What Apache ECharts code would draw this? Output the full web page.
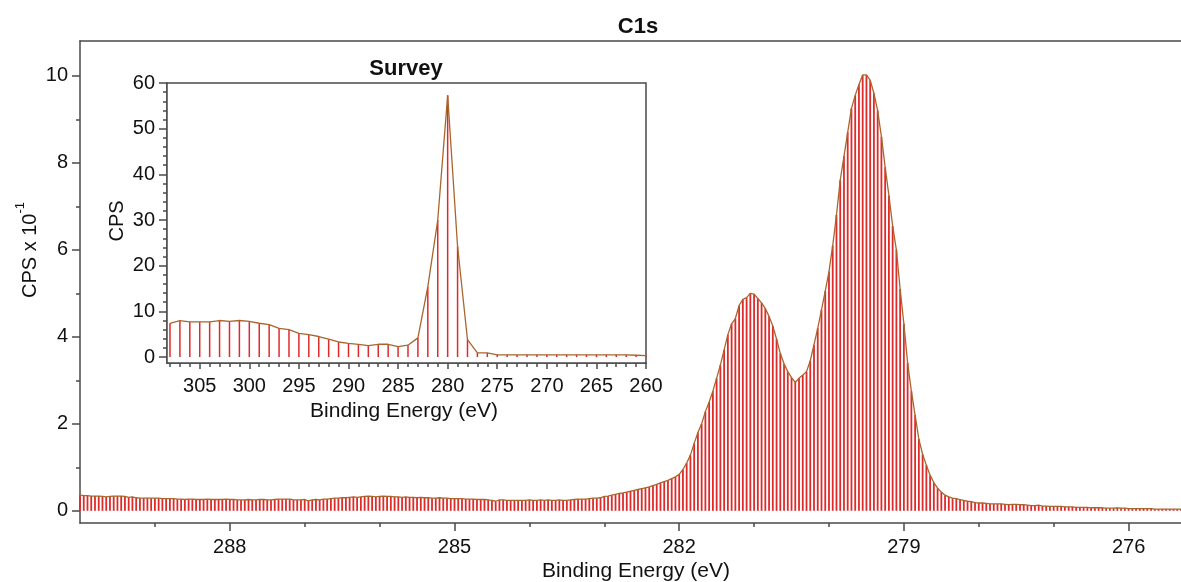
<!DOCTYPE html>
<html><head><meta charset="utf-8">
<script src="https://cdn.jsdelivr.net/npm/echarts@6/dist/echarts.min.js"></script>
<style>html,body{margin:0;padding:0;background:#fff}#c{width:1181px;height:582px}</style>
</head><body><div id="c"></div>
<script>
// ---------- C1s high-resolution spectrum (CPS x 10^-1) ----------
const c1sStart = 290.00;   // first binding energy (eV)
const c1sStep = 0.05;      // energy step (eV), decreasing
const c1sValues = [
  0.36,0.35,0.35,0.34,0.34,0.34,0.33,0.32,0.33,0.34,0.34,0.34,0.33,0.31,0.32,0.30,0.29,0.29,0.29,0.29,0.29,
  0.29,0.28,0.28,0.28,0.28,0.27,0.27,0.26,0.27,0.27,0.26,0.26,0.26,0.27,0.26,0.26,0.26,0.26,0.27,0.26,
  0.26,0.25,0.25,0.25,0.26,0.25,0.25,0.26,0.26,0.25,0.25,0.26,0.27,0.27,0.27,0.27,0.25,0.25,0.25,0.26,
  0.23,0.25,0.26,0.25,0.27,0.27,0.28,0.29,0.29,0.30,0.30,0.31,0.32,0.31,0.32,0.33,0.34,0.33,0.32,0.33,
  0.34,0.33,0.33,0.32,0.32,0.31,0.32,0.31,0.31,0.30,0.31,0.30,0.30,0.29,0.29,0.30,0.29,0.29,0.28,0.28,
  0.28,0.28,0.27,0.27,0.27,0.26,0.26,0.26,0.25,0.24,0.22,0.25,0.25,0.24,0.24,0.24,0.24,0.24,0.24,0.25,
  0.24,0.24,0.25,0.24,0.25,0.24,0.24,0.25,0.24,0.24,0.25,0.26,0.27,0.27,0.27,0.28,0.29,0.29,0.30,0.33,
  0.34,0.36,0.38,0.40,0.41,0.43,0.45,0.47,0.49,0.51,0.53,0.55,0.58,0.61,0.64,0.67,0.70,0.74,0.78,0.84,
  0.95,1.10,1.28,1.55,1.80,2.00,2.28,2.50,2.75,3.05,3.35,3.70,4.05,4.30,4.42,4.72,4.86,4.90,5.00,4.98,
  4.88,4.78,4.65,4.47,4.25,3.95,3.62,3.38,3.20,3.06,2.95,3.05,3.12,3.20,3.45,3.82,4.20,4.62,5.05,5.50,
  6.10,6.80,7.60,8.15,8.70,9.25,9.55,9.80,10.02,10.02,9.90,9.60,9.20,8.60,7.90,7.25,6.55,6.00,5.10,4.30,
  3.40,2.75,2.20,1.65,1.30,1.05,0.82,0.65,0.52,0.43,0.36,0.32,0.29,0.28,0.26,0.24,0.22,0.21,0.19,0.18,
  0.18,0.17,0.16,0.16,0.16,0.16,0.15,0.14,0.15,0.15,0.14,0.14,0.13,0.12,0.12,0.13,0.11,0.11,0.10,0.10,
  0.10,0.10,0.09,0.09,0.09,0.08,0.08,0.08,0.08,0.07,0.07,0.07,0.07,0.06,0.06,0.06,0.07,0.06,0.06,0.05,
  0.05,0.05,0.05,0.05,0.05,0.05,0.04,0.04,0.04,0.04,0.04,0.04,0.04,0.04
];
const c1sTicksX = [288, 285, 282, 279, 276];
const c1sMinorX = [289, 287, 286, 284, 283, 281, 280, 278, 277];
const c1sTicksY = [0, 2, 4, 6, 8, 10];
const c1sMinorY = [1, 3, 5, 7, 9];

// ---------- Survey spectrum (CPS) ----------
const surveyEnergy = [308,307,306,305,304,303,302,301,300,299,298,297,296,295,294,293,292,291,290,289,
  288,287,286,285,284,283,282,281,280,279,278,277,276,275,274,273,272,271,270,269,268,267,266,265,264,263,262,261,260];
const surveyValues = [7.4,8.0,7.7,7.7,7.7,8.0,7.8,8.0,7.8,7.4,7.1,6.3,6.0,5.2,4.9,4.5,3.9,3.3,3.0,2.8,
  2.5,2.8,2.8,2.3,2.6,4.2,15.4,30.0,57.3,24.2,3.8,0.9,0.9,0.5,0.5,0.5,0.5,0.5,0.5,0.5,0.5,0.5,0.5,0.5,0.5,0.5,0.5,0.4,0.3];
const surveyTicksX = [305, 300, 295, 290, 285, 280, 275, 270, 265, 260];
const surveyTicksY = [0, 10, 20, 30, 40, 50, 60];

const surveyMinorX = [];
for (let e = 261; e <= 308; e++) if (e % 5 !== 0) surveyMinorX.push(e);
const surveyMinorY = [];
for (let v = 2; v < 60; v += 2) if (v % 10 !== 0) surveyMinorY.push(v);

const c1sData = c1sValues.map((v, i) => [+(c1sStart - i * c1sStep).toFixed(2), v]);
const surveyData = surveyEnergy.map((e, i) => [e, surveyValues[i]]);

const FONT = 'Liberation Sans, Arial, sans-serif';
const AX = '#4a4a4a';
const BAR = '#e02a2a';
const LINE = '#a8662e';

const chart = echarts.init(document.getElementById('c'), null, {renderer: 'canvas'});

function lineAxis(show) { return {show: show, onZero: false, lineStyle: {color: AX, width: 1.5}}; }
const hiddenLine = {show: false, onZero: false};

chart.setOption({
  animation: false,
  backgroundColor: '#fff',
  grid: [
    {left: 80, top: 41, right: 0, bottom: 59, show: false},
    {left: 167, top: 83, width: 479, height: 280, show: true, borderColor: AX, borderWidth: 1.5, backgroundColor: '#fff', z: 5}
  ],
  xAxis: [
    {gridIndex: 0, type: 'value', inverse: true, min: 275.3, max: 290, position: 'bottom',
     axisLine: lineAxis(true), splitLine: {show: false},
     axisTick: {customValues: c1sTicksX, length: 8, lineStyle: {color: AX, width: 1.5}},
     axisLabel: {customValues: c1sTicksX, margin: 14, fontSize: 20, color: '#111', fontFamily: FONT}},
    {gridIndex: 0, type: 'value', inverse: true, min: 275.3, max: 290, position: 'bottom',
     axisLine: hiddenLine, splitLine: {show: false}, axisLabel: {show: false},
     axisTick: {customValues: c1sMinorX, length: 4, lineStyle: {color: AX, width: 1.5}}},
    {gridIndex: 0, type: 'value', inverse: true, min: 275.3, max: 290, position: 'top',
     axisLine: lineAxis(true), splitLine: {show: false}, axisLabel: {show: false}, axisTick: {show: false}},
    {gridIndex: 1, type: 'value', inverse: true, min: 260, max: 308.3, position: 'bottom',
     axisLine: lineAxis(true), splitLine: {show: false},
     axisTick: {customValues: surveyTicksX, length: 6, lineStyle: {color: AX, width: 1.5}},
     axisLabel: {customValues: surveyTicksX, margin: 13, fontSize: 20, color: '#111', fontFamily: FONT}},
    {gridIndex: 1, type: 'value', inverse: true, min: 260, max: 308.3, position: 'bottom',
     axisLine: hiddenLine, splitLine: {show: false}, axisLabel: {show: false},
     axisTick: {customValues: surveyMinorX, length: 4, lineStyle: {color: AX, width: 1.5}}}
  ],
  yAxis: [
    {gridIndex: 0, type: 'value', min: -0.28, max: 10.8, position: 'left',
     axisLine: lineAxis(true), splitLine: {show: false},
     axisTick: {customValues: c1sTicksY, length: 8, lineStyle: {color: AX, width: 1.5}},
     axisLabel: {customValues: c1sTicksY, margin: 12, fontSize: 20, color: '#111', fontFamily: FONT}},
    {gridIndex: 0, type: 'value', min: -0.28, max: 10.8, position: 'left',
     axisLine: hiddenLine, splitLine: {show: false}, axisLabel: {show: false},
     axisTick: {customValues: c1sMinorY, length: 4, lineStyle: {color: AX, width: 1.5}}},
    {gridIndex: 1, type: 'value', min: -1.3, max: 60, position: 'left',
     axisLine: lineAxis(true), splitLine: {show: false},
     axisTick: {customValues: surveyTicksY, length: 8, lineStyle: {color: AX, width: 1.5}},
     axisLabel: {customValues: surveyTicksY, margin: 12, fontSize: 20, color: '#111', fontFamily: FONT}},
    {gridIndex: 1, type: 'value', min: -1.3, max: 60, position: 'left',
     axisLine: hiddenLine, splitLine: {show: false}, axisLabel: {show: false},
     axisTick: {customValues: surveyMinorY, length: 4, lineStyle: {color: AX, width: 1.5}}}
  ],
  series: [
    {type: 'bar', xAxisIndex: 0, yAxisIndex: 0, data: c1sData, barWidth: 1.8,
     itemStyle: {color: BAR}, silent: true, z: 2},
    {type: 'line', xAxisIndex: 0, yAxisIndex: 0, data: c1sData, showSymbol: false,
     lineStyle: {color: LINE, width: 1.3}, silent: true, z: 3},
    {type: 'bar', xAxisIndex: 3, yAxisIndex: 2, data: surveyData, barWidth: 1.5,
     itemStyle: {color: BAR}, silent: true, z: 6},
    {type: 'line', xAxisIndex: 3, yAxisIndex: 2, data: surveyData, showSymbol: false,
     lineStyle: {color: LINE, width: 1.3}, silent: true, z: 7}
  ],
  graphic: [
    {type: 'text', x: 638, y: 27, style: {text: 'C1s', font: 'bold 22px ' + FONT, fill: '#111', align: 'center', verticalAlign: 'middle'}},
    {type: 'text', x: 406, y: 69, z: 10, style: {text: 'Survey', font: 'bold 22px ' + FONT, fill: '#111', align: 'center', verticalAlign: 'middle'}},
    {type: 'text', x: 636, y: 571, style: {text: 'Binding Energy (eV)', font: '21px ' + FONT, fill: '#111', align: 'center', verticalAlign: 'middle'}},
    {type: 'text', x: 404, y: 411, z: 10, style: {text: 'Binding Energy (eV)', font: '21px ' + FONT, fill: '#111', align: 'center', verticalAlign: 'middle'}},
    {type: 'text', x: 117, y: 221, rotation: Math.PI / 2, z: 10, style: {text: 'CPS', font: '20px ' + FONT, fill: '#111', align: 'center', verticalAlign: 'middle'}},
    {type: 'text', x: 27, y: 250, rotation: Math.PI / 2, style: {
      text: '{a|CPS x 10}{s|-1}', align: 'center', verticalAlign: 'middle', fill: '#111',
      rich: {a: {fontSize: 20, fontFamily: FONT, lineHeight: 26, verticalAlign: 'bottom'},
             s: {fontSize: 13, fontFamily: FONT, lineHeight: 26, verticalAlign: 'top'}}}}
  ]
});
</script></body></html>
